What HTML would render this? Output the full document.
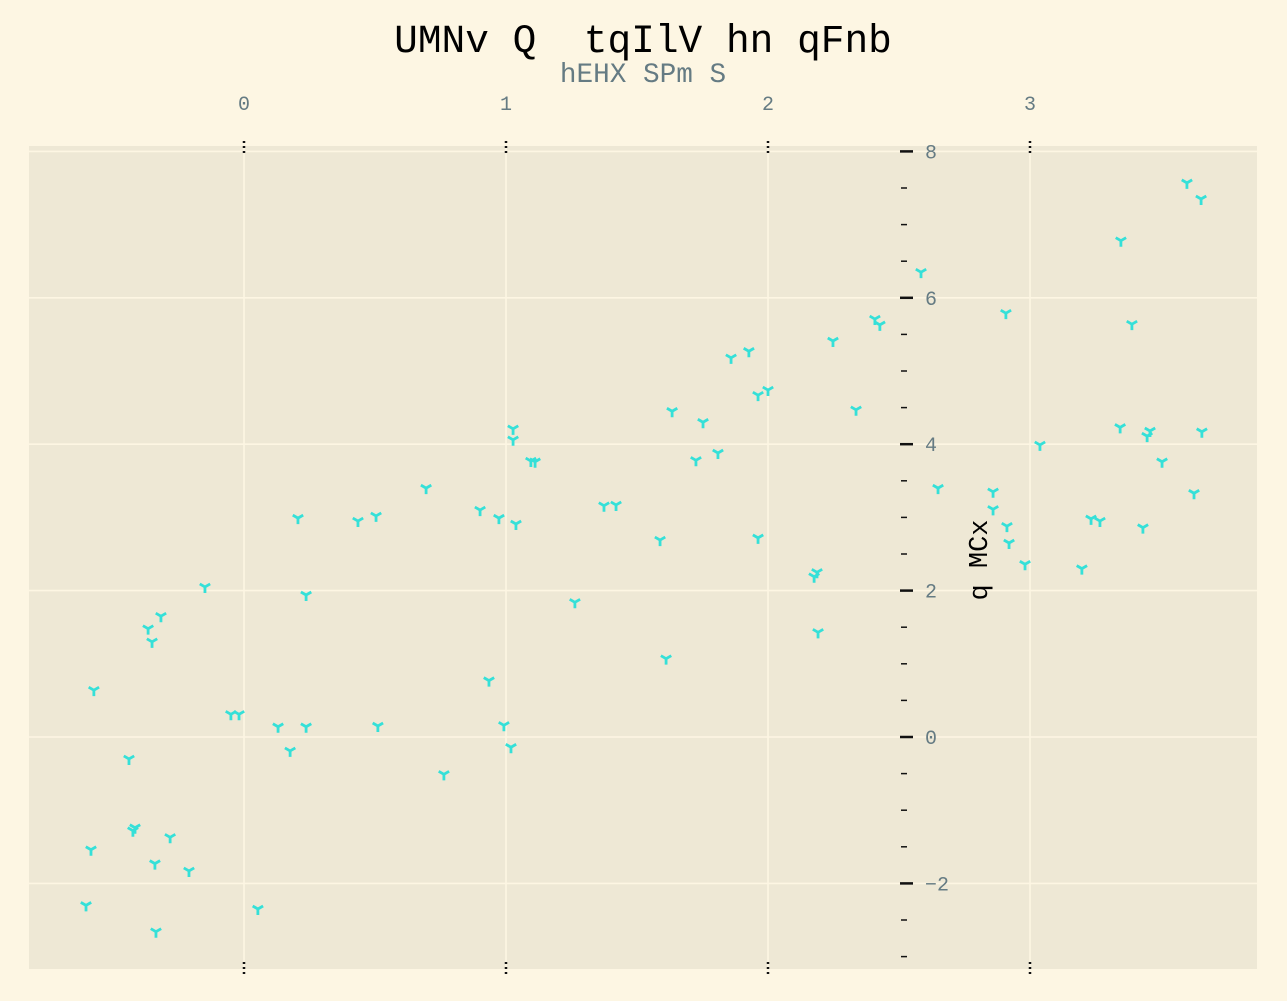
<!DOCTYPE html>
<html><head><meta charset="utf-8"><style>
body{margin:0;background:#fdf6e3;}
svg{display:block;font-family:"Liberation Mono","DejaVu Sans Mono",monospace;}
</style></head><body>
<svg id="chart" width="1287" height="1001" viewBox="0 0 1287 1001">
<rect x="0" y="0" width="1287" height="1001" fill="#fdf6e3"/>
<rect x="29" y="146" width="1228" height="823" fill="#eee8d5"/>
<g id="grid"></g>
<g id="ticks"></g>
<g id="marks"></g>
<text x="643" y="52" font-size="39.5" text-anchor="middle" fill="#000" style="white-space:pre" xml:space="preserve">UMNv Q  tqIlV hn qFnb</text>
<text x="643" y="82" font-size="27.7" text-anchor="middle" fill="#657b83">hEHX SPm S</text>
<text transform="translate(987,560) rotate(-90)" font-size="27" text-anchor="middle" fill="#000">q MCx</text>
</svg>
<script>
const xTicks=[0,1,2,3];
const yTicks=[-2,0,2,4,6,8];
const yTickLabels=["\u22122","0","2","4","6","8"];
const xValues=[-0.573,-0.603,-0.584,-0.439,-0.416,-0.424,-0.340,-0.336,-0.282,-0.210,-0.366,-0.351,-0.317,-0.149,-0.050,-0.019,0.053,0.130,0.176,0.206,0.237,0.237,0.435,0.504,0.511,0.695,0.763,0.901,0.935,0.973,0.992,1.019,1.027,1.027,1.038,1.095,1.111,1.263,1.374,1.420,1.588,1.611,1.634,1.725,1.752,1.809,1.859,1.927,1.962,1.962,2.000,2.176,2.187,2.191,2.248,2.336,2.408,2.427,2.584,2.649,2.859,2.859,2.908,2.912,2.920,2.981,3.038,3.198,3.233,3.267,3.344,3.347,3.389,3.431,3.447,3.458,3.504,3.599,3.626,3.653,3.656];
const yValues=[0.64,-2.30,-1.54,-0.30,-1.24,-1.28,-1.73,-2.66,-1.37,-1.83,1.48,1.30,1.65,2.05,0.31,0.31,-2.35,0.14,-0.19,2.99,0.14,1.94,2.95,3.02,0.15,3.40,-0.51,3.10,0.77,2.99,0.16,-0.14,4.21,4.06,2.91,3.77,3.76,1.84,3.16,3.17,2.69,1.07,4.45,3.78,4.30,3.88,5.18,5.27,4.67,2.72,4.74,2.19,2.25,1.43,5.41,4.47,5.71,5.63,6.35,3.40,3.35,3.11,5.79,2.88,2.65,2.36,3.99,2.30,2.98,2.95,4.23,6.78,5.64,2.86,4.11,4.18,3.76,7.57,3.33,7.35,4.17];
const NS="http://www.w3.org/2000/svg";
const X0=29,X1=1257,Y0=146,Y1=969;
function sx(v){return 244+v*262;}
function sy(v){return 737-v*73.2;}
function mk(tag,attrs,parent){const e=document.createElementNS(NS,tag);for(const k in attrs)e.setAttribute(k,attrs[k]);parent.appendChild(e);return e;}
const grid=document.getElementById('grid'),ticks=document.getElementById('ticks'),marks=document.getElementById('marks');
xTicks.forEach(v=>{
  const g=mk('line',{x1:sx(v),x2:sx(v),y1:Y0,y2:Y1,stroke:'#fdf6e3','stroke-width':1.6},grid);
  
  
  const t1=mk('line',{x1:sx(v),x2:sx(v),y1:141,y2:154,stroke:'#111','stroke-width':2.5,'stroke-dasharray':'2 3'},ticks);
  
  
  const t2=mk('line',{x1:sx(v),x2:sx(v),y1:962,y2:975,stroke:'#111','stroke-width':2.5,'stroke-dasharray':'2 3'},ticks);
  
  
  const l=mk('text',{x:sx(v),y:110,'font-size':20,'text-anchor':'middle',fill:'#657b83'},ticks);
  l.textContent=String(v);
  
  
});
yTicks.forEach((v,i)=>{
  const g=mk('line',{x1:X0,x2:X1,y1:sy(v),y2:sy(v),stroke:'#fdf6e3','stroke-width':1.6},grid);
  
  
  const t=mk('line',{x1:900,x2:913,y1:sy(v),y2:sy(v),stroke:'#111','stroke-width':2.5},ticks);
  
  
  const l=mk('text',{x:925,y:sy(v)+7,'font-size':20,fill:'#657b83'},ticks);
  l.textContent=yTickLabels[i];
  
  
});
for(let v=-3;v<=8;v+=0.5){
  if(Number.isInteger(v)&&v%2===0)continue;
  const t=mk('line',{x1:901,x2:907,y1:sy(v),y2:sy(v),stroke:'#111','stroke-width':1.5},ticks);
  
  
}
xValues.forEach((xv,i)=>{
  const cx=sx(xv),cy=sy(yValues[i]),r=6;
  const p=mk('path',{d:`M${cx},${cy}L${cx},${cy+r}M${cx},${cy}L${cx-r*0.866},${cy-r*0.5}M${cx},${cy}L${cx+r*0.866},${cy-r*0.5}`,stroke:'#35e0d8','stroke-width':2.8,fill:'none'},marks);
  
  
});
</script>
</body></html>
